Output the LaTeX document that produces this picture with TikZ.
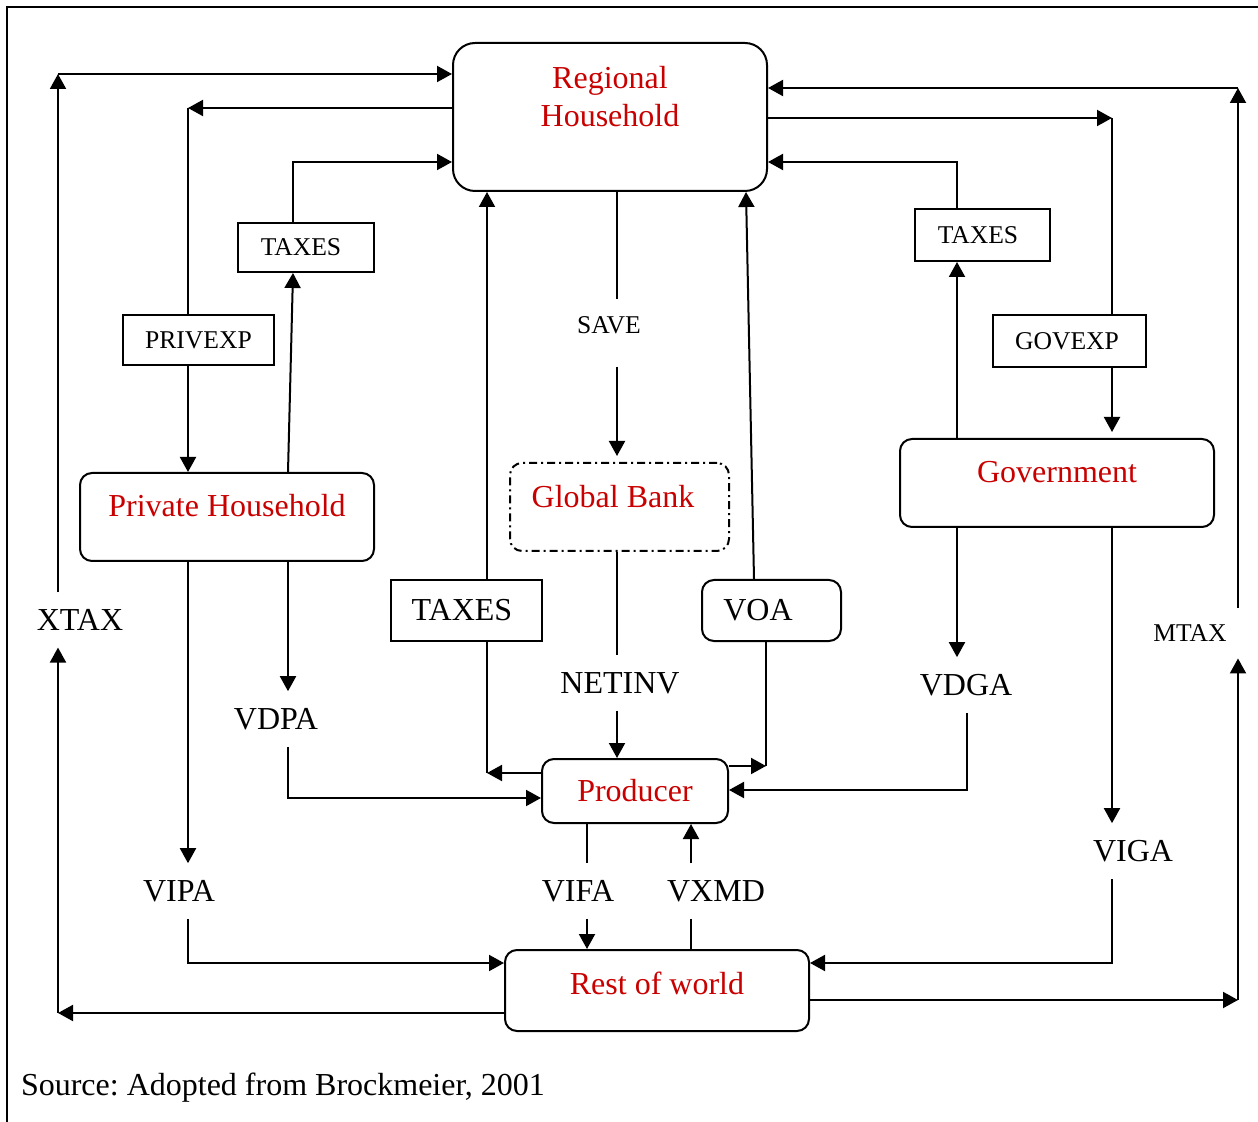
\documentclass[tikz,border=0pt]{standalone}
\usepackage{fontspec}
\setmainfont{Liberation Serif}
\usetikzlibrary{arrows.meta}
\definecolor{sectorred}{RGB}{200,0,0}
\newcommand{\bigfont}{\fontsize{16}{19}\selectfont}
\newcommand{\smallfont}{\fontsize{12.8}{15}\selectfont}
\frenchspacing

\begin{document}
\begin{tikzpicture}[x=0.5pt,y=-0.5pt,line width=1pt,
  flow/.style={-{Triangle[length=7.5pt,width=8pt]}},
  box/.style={draw,line width=1pt,inner sep=0pt,font=\smallfont},
  sector/.style={box,rounded corners=6pt},
  sectorname/.style={text=sectorred,font=\bigfont,align=center},
  flowlbl/.style={inner sep=8pt,font=\bigfont}]
\useasboundingbox (0,0) rectangle (1258,1122);
\draw (7,7) rectangle (1280,1140);

% sectors
\node[sector,rounded corners=11pt,minimum width=157pt,minimum height=74pt,
  label={[sectorname,yshift=10pt]center:Regional\\Household}] (rh) at (610,117) {};
\node[sector,minimum width=147pt,minimum height=44pt,
  label={[sectorname,yshift=5.5pt]center:Private Household}] (ph) at (227,517) {};
\node[sector,dash pattern=on 4pt off 2pt on 1pt off 2pt,minimum width=109.5pt,minimum height=44pt,
  label={[sectorname,yshift=5pt,xshift=-3.25pt]center:Global Bank}] (gb) at (619.5,507) {};
\node[sector,minimum width=157pt,minimum height=44pt,
  label={[sectorname,yshift=5.5pt]center:Government}] (gov) at (1057,483) {};
\node[sector,minimum width=93pt,minimum height=32pt,
  label={[sectorname]center:Producer}] (prod) at (635,791) {};
\node[sector,minimum width=152pt,minimum height=40.5pt,
  label={[sectorname,yshift=3.75pt]center:Rest of world}] (row) at (657,990.5) {};

% flow boxes
\node[box,minimum width=68pt,minimum height=24.5pt,
  label={[font=\smallfont,xshift=-2.5pt]center:TAXES}] (tax1) at (306,247.5) {};
\node[box,minimum width=75.5pt,minimum height=25pt] (privexp) at (198.5,340) {PRIVEXP};
\node[box,minimum width=67.5pt,minimum height=26pt,
  label={[font=\smallfont,xshift=-2.25pt]center:TAXES}] (tax2) at (982.5,235) {};
\node[box,minimum width=76.5pt,minimum height=26pt,
  label={[font=\smallfont,xshift=-1.25pt]center:GOVEXP}] (govexp) at (1069.5,341) {};
\node[box,minimum width=75.5pt,minimum height=30.5pt,
  label={[font=\bigfont,xshift=-2.25pt]center:TAXES}] (tax3) at (466.5,610.5) {};
\node[sector,minimum width=69.5pt,minimum height=30.5pt,
  label={[font=\bigfont,xshift=-6.75pt]center:VOA}] (voa) at (771.5,610.5) {};

% flow labels
\node[flowlbl] (xtax) at (80,620) {XTAX};
\node[flowlbl,font=\smallfont] (save) at (609,325) {SAVE};
\node[flowlbl] (netinv) at (620,683) {NETINV};
\node[flowlbl] (vdpa) at (276,719) {VDPA};
\node[flowlbl] (vipa) at (179,891) {VIPA};
\node[flowlbl] (vifa) at (578,891) {VIFA};
\node[flowlbl] (vxmd) at (716,891) {VXMD};
\node[flowlbl] (vdga) at (966,685) {VDGA};
\node[flowlbl] (viga) at (1133,851) {VIGA};
\node[flowlbl,font=\smallfont] (mtax) at (1190,633) {MTAX};
\node[anchor=base west,inner sep=0pt,font=\bigfont] (src) at (20,1095) {Source: Adopted from Brockmeier, 2001};

% export taxes
\coordinate (k1) at (58,74);
\coordinate (k2) at (58,1013);
\draw[flow] (k2 -| row.west) -- (k2);
\draw[flow] (k2) -- (k2 |- xtax.south);
\draw[flow] (k2 |- xtax.north) -- (k1);
\draw[flow] (k1) -- (k1 -| rh.west);

% private household
\coordinate (k3) at (188,108);
\coordinate (k6) at (188,963);
\draw[flow] (k3 -| rh.west) -- (k3);
\draw (k3) -- (k3 |- privexp.north);
\draw[flow] (k3 |- privexp.south) -- (k3 |- ph.north);
\draw[flow] (k6 |- ph.south) -- (k6 |- vipa.north);
\draw[flow] (k6 |- vipa.south) -- (k6) -- (k6 -| row.west);
\coordinate (k4) at (293,162);
\coordinate (k5) at (288,798);
\draw[flow] (k5 |- ph.north) -- (k4 |- tax1.south);
\draw[flow] (k4 |- tax1.north) -- (k4) -- (k4 -| rh.west);
\draw[flow] (k5 |- ph.south) -- (k5 |- vdpa.north);
\draw[flow] (k5 |- vdpa.south) -- (k5) -- (k5 -| prod.west);

% savings and investment
\coordinate (xs) at (617,0);
\draw (xs |- rh.south) -- (xs |- save.north);
\draw[flow,shorten <=8pt,shorten >=3pt] (xs |- save.south) -- (xs |- gb.north);
\draw (xs |- gb.south) -- (xs |- netinv.north);
\draw[flow] (xs |- netinv.south) -- (xs |- prod.north);

% producer
\coordinate (k7) at (487,773);
\draw[flow] (k7 -| prod.west) -- (k7);
\draw (k7) -- (k7 |- tax3.south);
\draw[flow] (k7 |- tax3.north) -- (k7 |- rh.south);
\coordinate (k9) at (766,766);
\coordinate (xv1) at (754,0);
\coordinate (xv2) at (746,0);
\draw[flow] (k9 -| prod.east) -- (k9);
\draw (k9) -- (k9 |- voa.south);
\draw[flow] (xv1 |- voa.north) -- (xv2 |- rh.south);
\coordinate (xf) at (587,0);
\coordinate (xm) at (691,0);
\draw (xf |- prod.south) -- (xf |- vifa.north);
\draw[flow] (xf |- vifa.south) -- (xf |- row.north);
\draw (xm |- row.north) -- (xm |- vxmd.south);
\draw[flow] (xm |- vxmd.north) -- (xm |- prod.south);

% government
\coordinate (k10) at (957,162);
\coordinate (k11) at (967,790);
\coordinate (k12) at (1112,118);
\coordinate (k13) at (1112,963);
\draw[flow] (k10 |- gov.north) -- (k10 |- tax2.south);
\draw[flow] (k10 |- tax2.north) -- (k10) -- (k10 -| rh.east);
\draw[flow] (k10 |- gov.south) -- (k10 |- vdga.north);
\draw[flow] (k11 |- vdga.south) -- (k11) -- (k11 -| prod.east);
\draw[flow] (k12 -| rh.east) -- (k12);
\draw (k12) -- (k12 |- govexp.north);
\draw[flow,shorten >=3pt] (k12 |- govexp.south) -- (k12 |- gov.north);
\draw[flow] (k12 |- gov.south) -- (k12 |- viga.north);
\draw[flow] (k13 |- viga.south) -- (k13) -- (k13 -| row.east);

% import taxes
\coordinate (k14) at (1238,1000);
\coordinate (k15) at (1238,88);
\draw[flow] (k14 -| row.east) -- (k14);
\draw[flow] (k14) -- (k14 |- mtax.south);
\draw[flow] (k14 |- mtax.north) -- (k15);
\draw[flow] (k15) -- (k15 -| rh.east);
\end{tikzpicture}
\end{document}
